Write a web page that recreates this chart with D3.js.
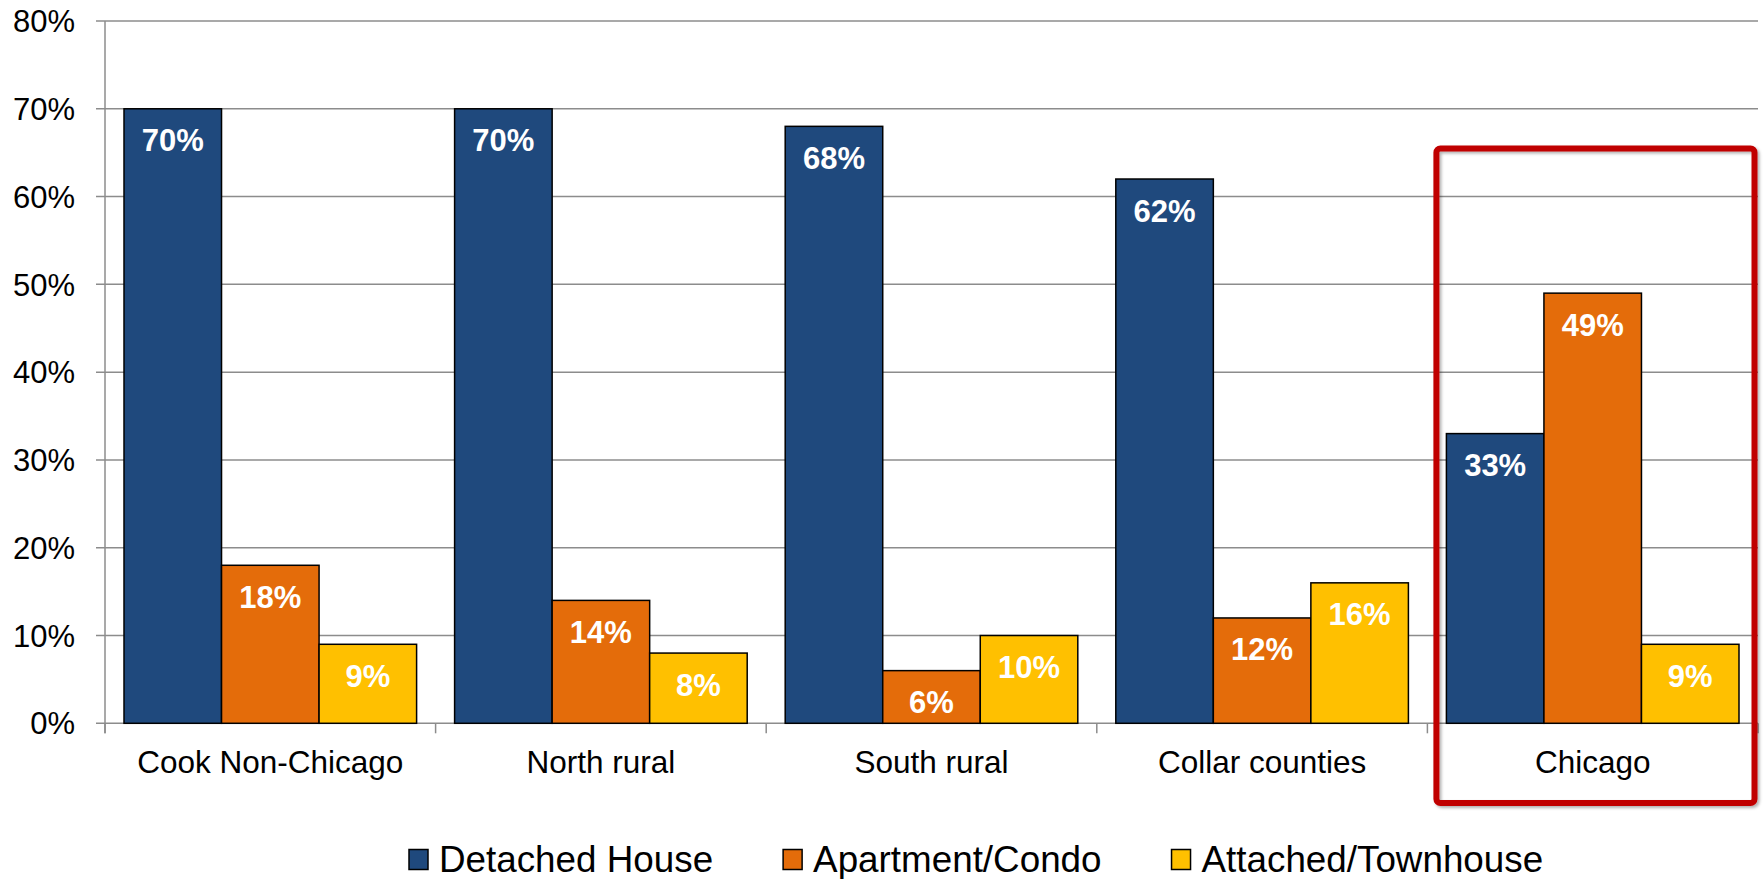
<!DOCTYPE html>
<html>
<head>
<meta charset="utf-8">
<script src="https://cdn.jsdelivr.net/npm/d3@7"></script>
<style>
  body { margin: 0; background: #fff; }
  svg { display: block; font-family: "Liberation Sans", Arial, Helvetica, sans-serif; }
</style>
</head>
<body>
<svg></svg>
<script>
const categories = ["Cook Non-Chicago", "North rural", "South rural", "Collar counties", "Chicago"];
const seriesNames = ["Detached House", "Apartment/Condo", "Attached/Townhouse"];
const detached = [70, 70, 68, 62, 33];
const apartment = [18, 14, 6, 12, 49];
const attached = [9, 8, 10, 16, 9];
const yTicks = [0, 10, 20, 30, 40, 50, 60, 70, 80];
const highlighted = "Chicago";

const colors = ["#1F497D", "#E46C0A", "#FFC000"];
const width = 1764;
const height = 879;

const svg = d3.select("svg")
    .attr("width", width)
    .attr("height", height);

const x = d3.scaleBand()
    .domain(categories)
    .range([105, 1758]);

const xSub = d3.scaleBand()
    .domain(seriesNames)
    .range([19, x.bandwidth() - 19]);

const y = d3.scaleLinear()
    .domain([0, 80])
    .range([723.3, 21]);

const color = d3.scaleOrdinal().domain(seriesNames).range(colors);

// grid lines + y ticks
const grid = svg.append("g");
grid.selectAll("line")
    .data(yTicks)
    .enter().append("line")
    .attr("x1", 96)
    .attr("x2", 1758)
    .attr("y1", d => y(d))
    .attr("y2", d => y(d))
    .attr("stroke", "#8c8c8c")
    .attr("stroke-width", 1.5);

grid.selectAll("text")
    .data(yTicks)
    .enter().append("text")
    .attr("x", 75)
    .attr("y", d => y(d))
    .attr("dy", "0.36em")
    .attr("text-anchor", "end")
    .attr("font-size", 31)
    .attr("fill", "#000")
    .text(d => d + "%");

// y axis line
svg.append("line")
    .attr("x1", 105).attr("x2", 105)
    .attr("y1", y(80)).attr("y2", y(0) + 10)
    .attr("stroke", "#8c8c8c")
    .attr("stroke-width", 1.5);

// x axis ticks at category boundaries
const bounds = categories.map(c => x(c)).concat([x.range()[1]]);
svg.append("g").selectAll("line")
    .data(bounds)
    .enter().append("line")
    .attr("x1", d => d).attr("x2", d => d)
    .attr("y1", y(0)).attr("y2", y(0) + 10)
    .attr("stroke", "#8c8c8c")
    .attr("stroke-width", 1.5);

// bars
const rows = categories.map(function (c, i) {
    return {cat: c, values: [detached[i], apartment[i], attached[i]]};
});

const groups = svg.append("g").selectAll("g")
    .data(rows)
    .enter().append("g")
    .attr("transform", d => "translate(" + x(d.cat) + ",0)");

const cells = groups.selectAll("g")
    .data(d => d.values.map((v, j) => ({name: seriesNames[j], value: v})))
    .enter().append("g");

cells.append("rect")
    .attr("x", d => xSub(d.name))
    .attr("width", xSub.bandwidth())
    .attr("y", d => y(d.value))
    .attr("height", d => y(0) - y(d.value))
    .attr("fill", d => color(d.name))
    .attr("stroke", "#000")
    .attr("stroke-width", 1.5);

cells.append("text")
    .attr("x", d => xSub(d.name) + xSub.bandwidth() / 2)
    .attr("y", d => y(d.value) + 42.5)
    .attr("text-anchor", "middle")
    .attr("font-size", 31)
    .attr("font-weight", "bold")
    .attr("fill", "#fff")
    .text(d => d.value + "%");

// category labels
svg.append("g").selectAll("text")
    .data(categories)
    .enter().append("text")
    .attr("x", d => x(d) + x.bandwidth() / 2)
    .attr("y", 773)
    .attr("text-anchor", "middle")
    .attr("font-size", 31.5)
    .attr("fill", "#000")
    .text(d => d);

// highlight box
const defs = svg.append("defs");
const shadow = defs.append("filter").attr("id", "shadow")
    .attr("x", "-5%").attr("y", "-5%").attr("width", "110%").attr("height", "110%");
shadow.append("feDropShadow")
    .attr("dx", 2).attr("dy", 2)
    .attr("stdDeviation", 1.5)
    .attr("flood-color", "#000")
    .attr("flood-opacity", 0.3);

svg.append("rect")
    .attr("x", x(highlighted) + 9)
    .attr("y", 148.5)
    .attr("width", x.bandwidth() - 12.5)
    .attr("height", 803 - 148.5)
    .attr("rx", 4)
    .attr("fill", "none")
    .attr("stroke", "#C00000")
    .attr("stroke-width", 6)
    .attr("filter", "url(#shadow)");

// legend
const legend = svg.append("g");
let lx = 409;
seriesNames.forEach(function (name) {
    legend.append("rect")
        .attr("x", lx)
        .attr("y", 849.5)
        .attr("width", 19)
        .attr("height", 20)
        .attr("fill", color(name))
        .attr("stroke", "#000")
        .attr("stroke-width", 1.5);
    const t = legend.append("text")
        .attr("x", lx + 30)
        .attr("y", 871.5)
        .attr("font-size", 36.8)
        .attr("fill", "#000")
        .text(name);
    lx += 30 + t.node().getComputedTextLength() + 70;
});
</script>
</body>
</html>
